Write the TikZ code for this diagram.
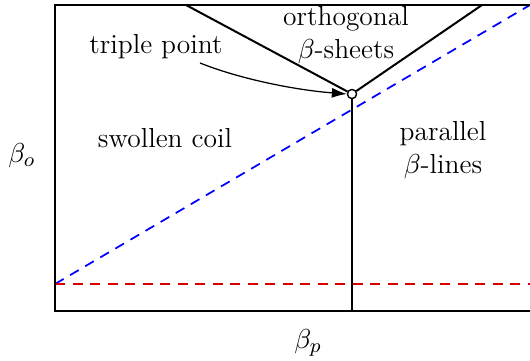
\documentclass[tikz,border=0pt]{standalone}
\usetikzlibrary{arrows.meta}
\begin{document}
\begin{tikzpicture}[x=0.4pt,y=-0.4pt,
  lbl/.style={font=\fontsize{11}{13.5}\selectfont, align=center, inner sep=0pt},
  bound/.style={line width=0.8pt, black},
  dsh/.style={line width=0.7pt, dash pattern=on 4pt off 3pt},
  tpc/.style={circle, draw, line width=0.5pt, fill=white, minimum size=3.6pt, inner sep=0pt}]
\useasboundingbox (0,0) rectangle (530,360);
\coordinate (tl) at (55,5);
\coordinate (tr) at (540,5);
\coordinate (bl) at (55,311);
\coordinate (br) at (540,311);
\coordinate (ta) at (186,5);
\coordinate (tb) at (482,5);
\coordinate (vb) at (352,311);
\coordinate (b0) at (55,284);
\coordinate (b1) at (530,5);
\coordinate (r1) at (530,284);
\coordinate (as) at (200,63);
\node[tpc] (tp) at (352,94) {};
\draw[dsh, blue] (b0) -- (b1);
\draw[dsh, red!85!black] (b0) -- (r1);
\draw[bound] (tr) -- (tl) -- (bl) -- (br);
\draw[bound] (ta) -- (tp);
\draw[bound] (tb) -- (tp);
\draw[bound] (tp) -- (vb);
\node[tpc] at (tp) {};
\node[lbl] (tpl) at (156,47) {triple point};
\node[lbl] (orth) at (346,35) {orthogonal\\$\beta$-sheets};
\node[lbl] (sc) at (165,138) {swollen coil};
\node[lbl] (par) at (443,150) {parallel\\$\beta$-lines};
\node[lbl] (bo) at (22,156) {$\beta_o$};
\node[lbl] (bp) at (308,343) {$\beta_p$};
\draw[-{Latex[length=6pt,width=4pt]}, line width=0.5pt] (as) .. controls (240,79) and (295,90) .. (tp.west);
\end{tikzpicture}
\end{document}
